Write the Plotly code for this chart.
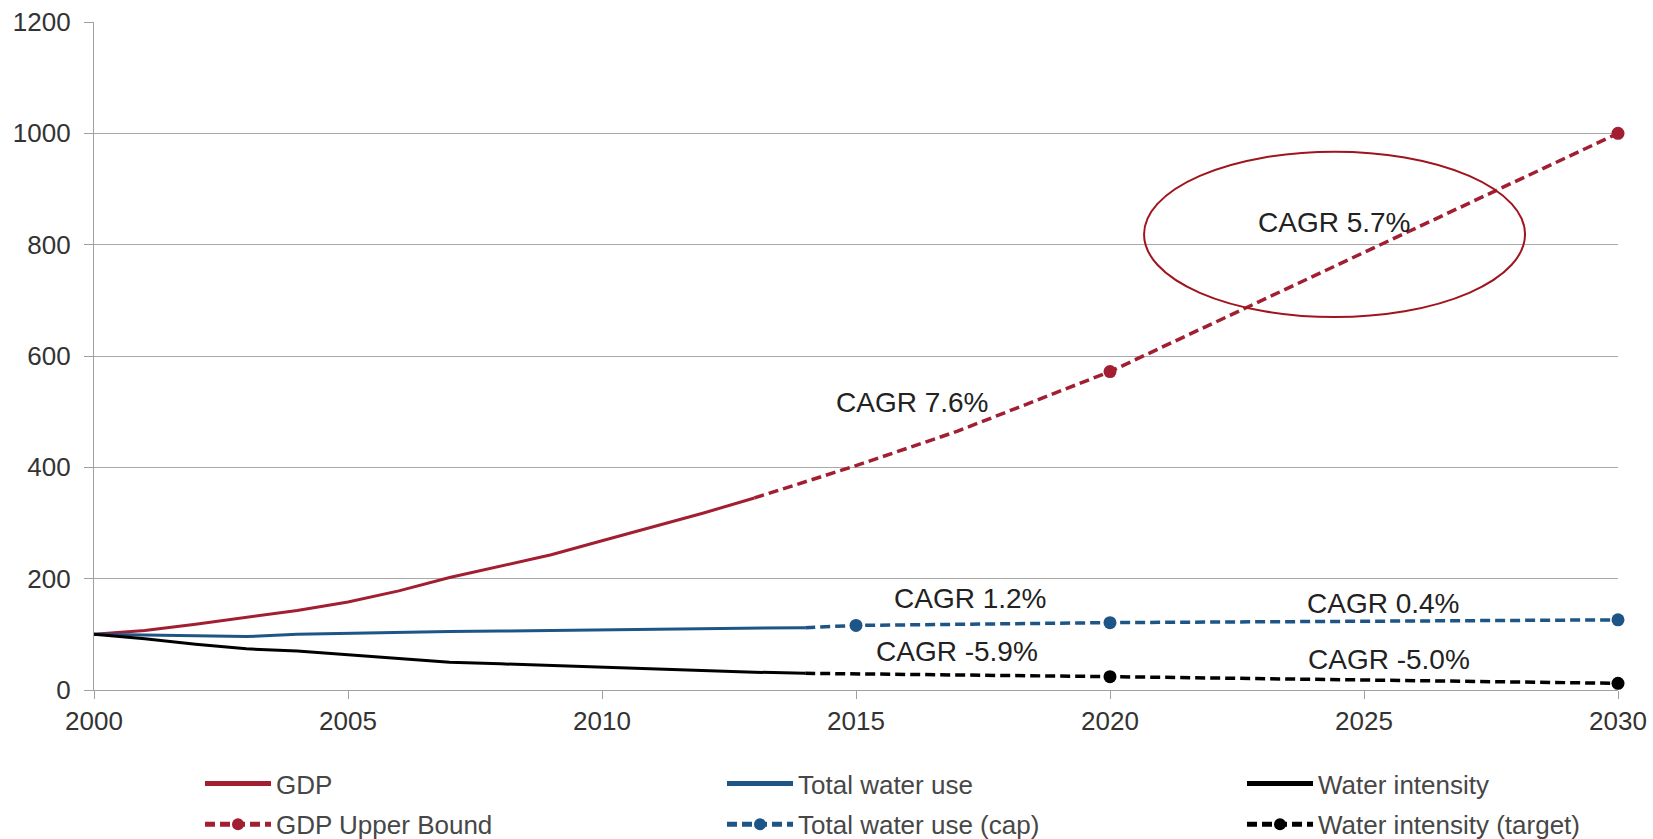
import plotly.graph_objects as go

# ---- data ----
hist_years = list(range(2000, 2014))
gdp_hist = [100, 107, 118, 131, 143, 158, 178, 202, 222, 243, 268, 293, 318, 345]

water_years = list(range(2000, 2015))
water_hist = [100, 99, 97, 96, 100, 102, 104, 105, 106, 107, 108, 109, 110, 111, 112]
intensity_hist = [100, 92, 82, 74, 70, 63, 57, 50, 47, 44, 40, 37, 34, 32, 30]

gdp_proj_years = [2013, 2015, 2017, 2020, 2030]
gdp_proj = [345, 403, 465, 572, 1000]
gdp_marked = [2020, 2030]

water_proj_years = [2014, 2015, 2020, 2030]
water_proj = [112, 116, 121, 126]
water_marked = [2015, 2020, 2030]

intensity_proj_years = [2014, 2020, 2030]
intensity_proj = [30, 24, 12]
intensity_marked = [2020, 2030]

cagr_labels = ["CAGR 7.6%", "CAGR 5.7%", "CAGR 1.2%", "CAGR 0.4%", "CAGR -5.9%", "CAGR -5.0%"]
cagr_x = [2016.12, 2024.42, 2017.26, 2025.39, 2016.99, 2025.5]
cagr_y = [516, 839, 164, 156, 69, 54]

x_ticks = [2000, 2005, 2010, 2015, 2020, 2025, 2030]
y_ticks = [0, 200, 400, 600, 800, 1000, 1200]

RED = "#A11F31"
BLUE = "#1D5686"
BLACK = "#000000"
FONT = "Arial, Liberation Sans, sans-serif"
DASH = "10px,5px"

fig = go.Figure()

def solid(x, y, name, color, leg, grp):
    fig.add_trace(go.Scatter(x=x, y=y, name=name, mode="lines",
                             line=dict(color=color, width=3), legend=leg,
                             legendgroup=grp))

def dashed(x, y, marked, name, color, leg, grp):
    sizes = [13 if v in marked else 0 for v in x]
    fig.add_trace(go.Scatter(x=x, y=y, name=name, mode="lines+markers",
                             line=dict(color=color, width=3.5, dash=DASH),
                             marker=dict(color=color, size=sizes, opacity=1,
                                         line=dict(width=0)),
                             cliponaxis=False, legend=leg, legendgroup=grp))

solid(hist_years, gdp_hist, "GDP", RED, "legend", "a")
dashed(gdp_proj_years, gdp_proj, gdp_marked, "GDP Upper Bound", RED, "legend", "b")
solid(water_years, water_hist, "Total water use", BLUE, "legend2", "c")
dashed(water_proj_years, water_proj, water_marked, "Total water use (cap)", BLUE, "legend2", "d")
solid(water_years, intensity_hist, "Water intensity", BLACK, "legend3", "e")
dashed(intensity_proj_years, intensity_proj, intensity_marked, "Water intensity (target)", BLACK, "legend3", "f")

for t, x, y in zip(cagr_labels, cagr_x, cagr_y):
    fig.add_annotation(x=x, y=y, text=t, showarrow=False, xref="x", yref="y",
                       font=dict(family=FONT, size=28, color="#222222"))

fig.add_shape(type="circle", xref="x", yref="y", x0=2020.67, x1=2028.17, y0=670, y1=967,
              line=dict(color="#A0141E", width=2))

W, H = 1653, 839
legend_common = dict(orientation="v", xref="container", yref="container",
                     xanchor="left", yanchor="middle",
                     font=dict(family=FONT, size=26, color="#474747"),
                     bgcolor="rgba(0,0,0,0)", itemsizing="constant",
                     traceorder="grouped", tracegroupgap=4, itemwidth=66)

legend_y = 1 - 804 / H

fig.update_layout(
    width=W, height=H,
    margin=dict(l=94, r=35, t=22, b=149, autoexpand=False),
    plot_bgcolor="white", paper_bgcolor="white",
    font=dict(family=FONT, color="#333333"),
    showlegend=True,
    legend=dict(x=200 / W, y=legend_y, **legend_common),
    legend2=dict(x=722 / W, y=legend_y, **legend_common),
    legend3=dict(x=1242 / W, y=legend_y, **legend_common),
    xaxis=dict(range=[2000, 2030], tickvals=x_ticks, showgrid=False,
               showline=True, linecolor="#A0A0A0", linewidth=1.2,
               ticks="outside", ticklen=8, tickcolor="#A0A0A0",
               tickfont=dict(family=FONT, size=26, color="#333333"),
               zeroline=False),
    yaxis=dict(range=[0, 1200], tickvals=y_ticks, showgrid=True,
               gridcolor="#A8A8A8", gridwidth=1.2,
               showline=True, linecolor="#A0A0A0", linewidth=1.2,
               ticks="outside", ticklen=9, tickcolor="#A0A0A0",
               ticklabelstandoff=8,
               tickfont=dict(family=FONT, size=26, color="#333333"),
               zeroline=False),
)

fig.write_html("out.html",
               config={"displayModeBar": False},
               post_script="document.body.style.margin='0px';document.body.style.overflow='hidden';")
